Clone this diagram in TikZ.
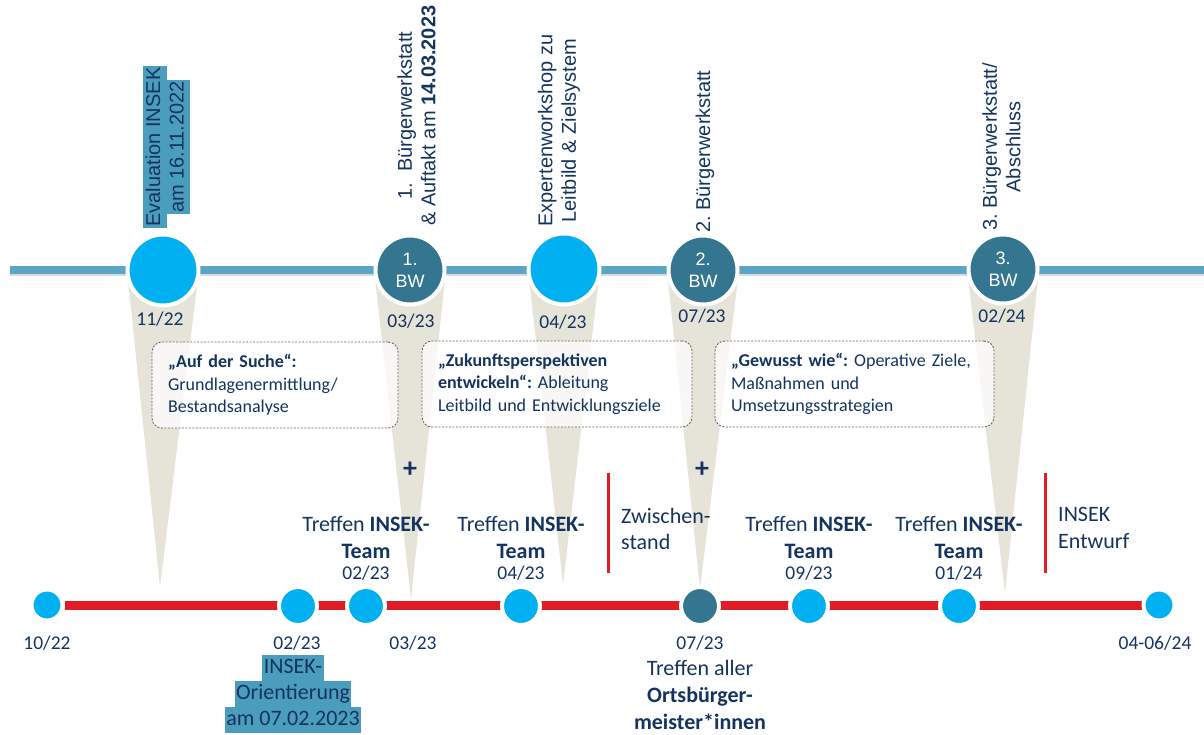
\documentclass[tikz,border=0pt]{standalone}
\usepackage{fontspec}
\setmainfont{Carlito}
\newfontfamily\arialfont{Liberation Sans}
\frenchspacing
\usetikzlibrary{
  backgrounds,
  calc,
  positioning,
}
\definecolor{cyanbright}{RGB}{0,176,240}
\definecolor{tealdark}{RGB}{52,117,143}
\definecolor{topblue}{RGB}{91,166,196}
\definecolor{redline}{RGB}{226,28,36}
\definecolor{navy}{RGB}{20,52,95}
\definecolor{beige}{RGB}{230,227,216}
\definecolor{hlblue}{RGB}{75,157,189}
\tikzstyle{evdot} = [circle, fill=cyanbright, draw=white, line width=4pt, minimum size=71pt, inner sep=0pt]
\tikzstyle{bwdot} = [
  circle,
  fill=tealdark,
  draw=white,
  line width=4pt,
  minimum size=69pt,
  inner sep=0pt,
  align=center,
  text=white,
  font=\arialfont\fontsize{18}{22}\selectfont,
]
\tikzstyle{dot} = [circle, fill=cyanbright, draw=white, line width=4pt, minimum size=38pt, inner sep=0pt]
\tikzstyle{enddot} = [circle, fill=cyanbright, draw=white, line width=4pt, minimum size=31pt, inner sep=0pt]
\tikzstyle{topline} = [line width=8.5pt, topblue]
\tikzstyle{topshadow} = [line width=6pt, black!14]
\tikzstyle{timeline} = [line width=9pt, redline]
\tikzstyle{milestone} = [line width=3pt, redline]
\tikzstyle{spike} = [fill=beige]
\tikzstyle{vlabel} = [rotate=90, anchor=west, align=center, inner sep=0pt, text=navy, font=\arialfont\fontsize{20}{23.5}\selectfont]
\tikzstyle{hl} = [
  rotate=90,
  fill=hlblue,
  text=navy,
  inner xsep=1.5pt,
  inner ysep=2.25pt,
  outer sep=0pt,
  text height=14.5pt,
  text depth=4.5pt,
  font=\arialfont\fontsize{20}{23.5}\selectfont,
]
\tikzstyle{hlrow} = [
  fill=hlblue,
  text=navy,
  inner xsep=1.5pt,
  inner ysep=2.75pt,
  outer sep=0pt,
  text height=15.5pt,
  text depth=5pt,
  font=\fontsize{22}{27}\selectfont,
]
\tikzstyle{phase} = [
  draw=gray!80!black,
  dash pattern=on 2pt off 1.5pt,
  line width=0.9pt,
  rounded corners=10pt,
  fill=white,
  fill opacity=0.75,
  text opacity=1,
  text=navy,
  align=left,
  inner xsep=16pt,
  minimum height=86pt,
  font=\fontsize{18}{22.5}\selectfont,
]
\tikzstyle{team} = [align=center, inner sep=1pt, text=navy, font=\fontsize{22}{27}\selectfont]
\tikzstyle{note} = [anchor=west, align=left, inner sep=0pt, text=navy, font=\fontsize{22}{26.5}\selectfont]
\tikzstyle{date} = [inner sep=1pt, text=navy, font=\fontsize{19.5}{23}\selectfont]
\tikzstyle{plus} = [inner sep=0pt, text=navy, font=\bfseries\fontsize{28}{28}\selectfont]

\begin{document}
\begin{tikzpicture}[x=1pt,y=-1pt]
	\useasboundingbox (0,0) rectangle (1204,735);

	\coordinate (tl) at (10,270);
	\coordinate (tr) at (1204,270);

	\node[evdot] (c1) at (163,270) {};
	\node[bwdot] (c2) at (410,270) {1.\\BW};
	\node[evdot] (c3) at (564,269) {};
	\node[bwdot] (c4) at (703,270) {2.\\BW};
	\node[bwdot] (c5) at (1003,269) {3.\\BW};

	\coordinate (s1) at (160,587);
	\coordinate (s2) at (411,599);
	\coordinate (s3) at (563,584);
	\coordinate (s4) at (700,589);
	\coordinate (s5) at (1005,593);

	\node[hl] (e1) at (155,147) {Evaluation INSEK};
	\node[hl] (e2) [below=0pt of e1] {am 16.11.2022};
	\node[vlabel] (l2) at (416.5,226) {1.\ \ Bürgerwerkstatt\\\& Auftakt am \textbf{14.03.2023}};
	\node[vlabel] (l3) at (559,227) {Expertenworkshop zu\\Leitbild \& Zielsystem};
	\node[vlabel] (l4) at (705,233) {2. Bürgerwerkstatt};
	\node[vlabel] (l5) at (1001.5,231) {3. Bürgerwerkstatt/\\Abschluss};

	\node[date] (sd1) at (160,319) {11/22};
	\node[date] (sd2) at (411,321) {03/23};
	\node[date] (sd3) at (563,322) {04/23};
	\node[date] (sd4) at (702,316) {07/23};
	\node[date] (sd5) at (1002,316) {02/24};

	\node[phase, text width=214pt] (p1) at (275,385) {\textbf{„Auf der Suche“:}\\Grundlagenermittlung/\\Bestandsanalyse};
	\node[phase, text width=238pt] (p2) at (557,384) {\textbf{„Zukunftsperspektiven}\\\textbf{entwickeln“:} Ableitung\\Leitbild und Entwicklungsziele};
	\node[phase, text width=247pt] (p3) at (854.5,384) {\textbf{„Gewusst wie“:} Operative Ziele,\\Maßnahmen und\\Umsetzungsstrategien};

	\node[plus] (x1) at (410,470) {+};
	\node[plus] (x2) at (702,470) {+};

	\node[enddot] (b1) at (47,605) {};
	\node[dot] (b2) at (298,606) {};
	\node[dot] (b3) at (366,606) {};
	\node[dot] (b4) at (521,606) {};
	\node[dot, fill=tealdark] (b5) at (700,606) {};
	\node[dot] (b6) at (809,606) {};
	\node[dot] (b7) at (959,606) {};
	\node[enddot] (b8) at (1159,605) {};

	\node[date, above=3pt of b3] (d3) {02/23};
	\node[team, above=5pt of d3] (t3) {Treffen \textbf{INSEK-}\\\textbf{Team}};
	\node[date, above=3pt of b4] (d4) {04/23};
	\node[team, above=5pt of d4] (t4) {Treffen \textbf{INSEK-}\\\textbf{Team}};
	\node[date, above=3pt of b6] (d6) {09/23};
	\node[team, above=5pt of d6] (t6) {Treffen \textbf{INSEK-}\\\textbf{Team}};
	\node[date, above=3pt of b7] (d7) {01/24};
	\node[team, above=5pt of d7] (t7) {Treffen \textbf{INSEK-}\\\textbf{Team}};

	\node[date] (u1) at (47,643) {10/22};
	\node[date] (u2) at (297,643) {02/23};
	\node[date] (u3) at (413,643) {03/23};
	\node[date] (u5) at (700,643) {07/23};
	\node[date] (u8) at (1155,643) {04-06/24};

	\node[hlrow] (o1) at (293,668) {INSEK-};
	\node[hlrow] (o2) [below=0pt of o1] {Orientierung};
	\node[hlrow] (o3) [below=0pt of o2] {am 07.02.2023};
	\node[team, below=8pt of u5] (m5) {Treffen aller\\\textbf{Ortsbürger-}\\\textbf{meister*innen}};

	\coordinate (z1) at (608,473);
	\coordinate (z2) at (608,573);
	\coordinate (z3) at (1045,473);
	\coordinate (z4) at (1045,573);
	\node[note] (n1) at (621,529) {Zwischen-\\stand};
	\node[note] (n2) at (1058,528) {INSEK\\Entwurf};

	\begin{scope}[on background layer]
		\draw[topshadow] ($(tl)+(0,3)$) -- ($(tr)+(0,3)$);
		\draw[topline] (tl) -- (tr);
		\fill[spike] ($(c1)+(-36,0)$) -- ($(c1)+(36,0)$) -- (s1) -- cycle;
		\fill[spike] ($(c2)+(-36,0)$) -- ($(c2)+(36,0)$) -- (s2) -- cycle;
		\fill[spike] ($(c3)+(-36,0)$) -- ($(c3)+(36,0)$) -- (s3) -- cycle;
		\fill[spike] ($(c4)+(-36,0)$) -- ($(c4)+(36,0)$) -- (s4) -- cycle;
		\fill[spike] ($(c5)+(-36,0)$) -- ($(c5)+(36,0)$) -- (s5) -- cycle;
		\draw[timeline] (b1) -- (b8);
		\draw[milestone] (z1) -- (z2);
		\draw[milestone] (z3) -- (z4);
	\end{scope}
\end{tikzpicture}
\end{document}
